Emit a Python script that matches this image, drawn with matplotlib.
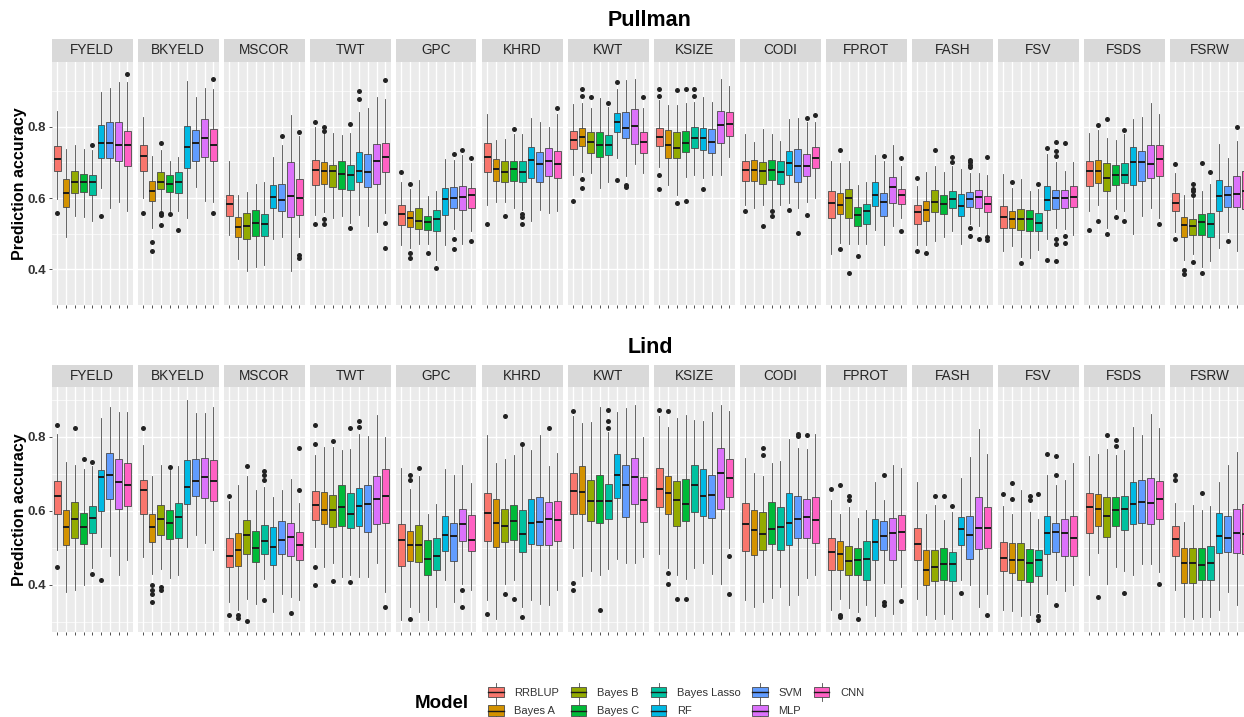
import matplotlib
matplotlib.use("Agg")
import matplotlib.pyplot as plt
from matplotlib.legend_handler import HandlerBase
from matplotlib.patches import Rectangle, Patch
from matplotlib.lines import Line2D

plt.rcParams['font.family'] = ['Liberation Sans', 'DejaVu Sans']

traits = ["FYELD", "BKYELD", "MSCOR", "TWT", "GPC", "KHRD", "KWT", "KSIZE",
          "CODI", "FPROT", "FASH", "FSV", "FSDS", "FSRW"]
models = ["RRBLUP", "Bayes A", "Bayes B", "Bayes C", "Bayes Lasso", "RF", "SVM", "MLP", "CNN"]
colors = ["#F8766D", "#D39200", "#93AA00", "#00BA38", "#00C19F", "#00B9E3",
          "#619CFF", "#DB72FB", "#FF61C3"]
locations = ["Pullman", "Lind"]

# ---------------- Pullman ----------------
pullman_q1 = [
    [0.675, 0.576, 0.615, 0.617, 0.610, 0.712, 0.712, 0.703, 0.689],
    [0.677, 0.591, 0.626, 0.617, 0.615, 0.684, 0.705, 0.716, 0.705],
    [0.549, 0.492, 0.486, 0.495, 0.493, 0.573, 0.563, 0.546, 0.552],
    [0.637, 0.639, 0.630, 0.626, 0.624, 0.644, 0.630, 0.639, 0.674],
    [0.524, 0.520, 0.513, 0.511, 0.508, 0.553, 0.573, 0.567, 0.573],
    [0.674, 0.648, 0.644, 0.648, 0.644, 0.656, 0.644, 0.662, 0.657],
    [0.737, 0.745, 0.727, 0.716, 0.721, 0.786, 0.768, 0.752, 0.727],
    [0.746, 0.713, 0.712, 0.729, 0.741, 0.734, 0.728, 0.755, 0.773],
    [0.648, 0.648, 0.639, 0.651, 0.639, 0.664, 0.644, 0.662, 0.684],
    [0.544, 0.555, 0.544, 0.522, 0.528, 0.578, 0.551, 0.587, 0.583],
    [0.528, 0.535, 0.560, 0.555, 0.572, 0.551, 0.574, 0.572, 0.561],
    [0.517, 0.516, 0.511, 0.508, 0.508, 0.567, 0.569, 0.573, 0.576],
    [0.633, 0.642, 0.619, 0.637, 0.642, 0.637, 0.648, 0.656, 0.662],
    [0.563, 0.490, 0.497, 0.497, 0.490, 0.563, 0.576, 0.575, 0.570],
]
pullman_med = [
    [0.709, 0.615, 0.644, 0.646, 0.646, 0.756, 0.754, 0.750, 0.748],
    [0.718, 0.619, 0.646, 0.640, 0.646, 0.743, 0.755, 0.768, 0.749],
    [0.583, 0.520, 0.522, 0.529, 0.526, 0.603, 0.596, 0.605, 0.599],
    [0.680, 0.675, 0.675, 0.668, 0.665, 0.677, 0.673, 0.705, 0.714],
    [0.555, 0.543, 0.537, 0.534, 0.540, 0.597, 0.599, 0.603, 0.610],
    [0.716, 0.682, 0.674, 0.682, 0.674, 0.707, 0.695, 0.704, 0.695],
    [0.764, 0.772, 0.757, 0.750, 0.748, 0.814, 0.797, 0.801, 0.757],
    [0.772, 0.750, 0.741, 0.755, 0.770, 0.768, 0.758, 0.805, 0.807],
    [0.680, 0.680, 0.675, 0.680, 0.674, 0.698, 0.691, 0.691, 0.713],
    [0.585, 0.581, 0.600, 0.553, 0.563, 0.608, 0.590, 0.632, 0.609],
    [0.560, 0.567, 0.590, 0.583, 0.597, 0.579, 0.598, 0.603, 0.583],
    [0.546, 0.540, 0.540, 0.540, 0.530, 0.596, 0.599, 0.601, 0.603],
    [0.677, 0.677, 0.657, 0.664, 0.666, 0.702, 0.700, 0.696, 0.709],
    [0.587, 0.525, 0.522, 0.534, 0.528, 0.606, 0.608, 0.612, 0.619],
]
pullman_q3 = [
    [0.745, 0.655, 0.675, 0.669, 0.665, 0.806, 0.813, 0.813, 0.788],
    [0.749, 0.647, 0.673, 0.665, 0.674, 0.802, 0.791, 0.823, 0.793],
    [0.610, 0.546, 0.558, 0.566, 0.556, 0.637, 0.641, 0.700, 0.655],
    [0.707, 0.701, 0.693, 0.704, 0.693, 0.730, 0.723, 0.752, 0.756],
    [0.582, 0.564, 0.572, 0.551, 0.567, 0.628, 0.630, 0.633, 0.628],
    [0.754, 0.709, 0.704, 0.704, 0.704, 0.744, 0.730, 0.741, 0.731],
    [0.788, 0.797, 0.786, 0.786, 0.777, 0.840, 0.841, 0.850, 0.786],
    [0.797, 0.791, 0.786, 0.788, 0.800, 0.797, 0.793, 0.845, 0.842],
    [0.704, 0.707, 0.702, 0.707, 0.704, 0.733, 0.738, 0.723, 0.744],
    [0.619, 0.615, 0.626, 0.576, 0.583, 0.646, 0.615, 0.658, 0.626],
    [0.581, 0.591, 0.624, 0.608, 0.621, 0.612, 0.617, 0.624, 0.605],
    [0.578, 0.564, 0.569, 0.567, 0.558, 0.633, 0.624, 0.624, 0.635],
    [0.703, 0.707, 0.698, 0.693, 0.698, 0.743, 0.731, 0.748, 0.750],
    [0.614, 0.546, 0.540, 0.555, 0.558, 0.650, 0.633, 0.662, 0.675],
]
pullman_lo = [
    [0.598, 0.492, 0.551, 0.546, 0.535, 0.628, 0.573, 0.590, 0.563],
    [0.599, 0.517, 0.567, 0.563, 0.563, 0.544, 0.630, 0.592, 0.590],
    [0.497, 0.429, 0.395, 0.406, 0.411, 0.486, 0.490, 0.395, 0.490],
    [0.553, 0.562, 0.544, 0.551, 0.531, 0.553, 0.522, 0.504, 0.558],
    [0.468, 0.459, 0.472, 0.472, 0.427, 0.468, 0.513, 0.472, 0.508],
    [0.581, 0.590, 0.590, 0.573, 0.567, 0.535, 0.567, 0.558, 0.563],
    [0.664, 0.674, 0.671, 0.628, 0.644, 0.713, 0.662, 0.695, 0.671],
    [0.686, 0.637, 0.610, 0.660, 0.664, 0.657, 0.665, 0.664, 0.716],
    [0.581, 0.573, 0.581, 0.573, 0.581, 0.587, 0.573, 0.588, 0.601],
    [0.443, 0.475, 0.470, 0.470, 0.472, 0.511, 0.468, 0.522, 0.543],
    [0.468, 0.468, 0.479, 0.490, 0.508, 0.470, 0.526, 0.522, 0.495],
    [0.452, 0.466, 0.436, 0.433, 0.454, 0.486, 0.516, 0.513, 0.497],
    [0.563, 0.582, 0.516, 0.569, 0.563, 0.499, 0.551, 0.572, 0.543],
    [0.504, 0.425, 0.442, 0.406, 0.423, 0.459, 0.506, 0.451, 0.470],
]
pullman_hi = [
    [0.844, 0.739, 0.750, 0.739, 0.734, 0.897, 0.909, 0.926, 0.926],
    [0.829, 0.718, 0.736, 0.705, 0.714, 0.930, 0.885, 0.910, 0.907],
    [0.704, 0.608, 0.617, 0.639, 0.644, 0.716, 0.748, 0.833, 0.773],
    [0.800, 0.784, 0.784, 0.777, 0.784, 0.842, 0.853, 0.883, 0.877],
    [0.644, 0.625, 0.651, 0.605, 0.619, 0.710, 0.707, 0.721, 0.698],
    [0.835, 0.763, 0.767, 0.779, 0.779, 0.826, 0.813, 0.800, 0.835],
    [0.865, 0.868, 0.853, 0.880, 0.856, 0.907, 0.931, 0.935, 0.854],
    [0.874, 0.862, 0.862, 0.868, 0.870, 0.883, 0.870, 0.933, 0.915],
    [0.781, 0.758, 0.795, 0.781, 0.761, 0.822, 0.824, 0.813, 0.813],
    [0.704, 0.698, 0.704, 0.637, 0.646, 0.721, 0.704, 0.748, 0.689],
    [0.635, 0.674, 0.689, 0.674, 0.689, 0.682, 0.671, 0.671, 0.665],
    [0.668, 0.628, 0.653, 0.619, 0.626, 0.725, 0.702, 0.677, 0.701],
    [0.782, 0.790, 0.770, 0.763, 0.779, 0.822, 0.829, 0.868, 0.836],
    [0.671, 0.608, 0.600, 0.619, 0.641, 0.752, 0.713, 0.761, 0.770],
]
pullman_outliers = {
    "FYELD": {0: [0.558], 4: [0.750], 5: [0.550], 8: [0.949]},
    "BKYELD": {0: [0.558], 1: [0.477, 0.451], 2: [0.755, 0.558, 0.552, 0.525],
               3: [0.555], 4: [0.511], 8: [0.933, 0.558]},
    "MSCOR": {6: [0.775], 8: [0.786, 0.441, 0.433]},
    "TWT": {0: [0.815, 0.526], 1: [0.800, 0.788, 0.542, 0.528], 4: [0.808, 0.517],
            5: [0.901, 0.877], 8: [0.931, 0.531, 0.460]},
    "GPC": {0: [0.674], 1: [0.641, 0.445, 0.433], 3: [0.445], 4: [0.404],
            6: [0.725, 0.486, 0.458], 7: [0.736], 8: [0.712, 0.479]},
    "KHRD": {0: [0.526], 2: [0.551], 3: [0.795], 4: [0.555, 0.548, 0.526], 8: [0.853]},
    "KWT": {0: [0.591], 1: [0.906, 0.886, 0.655, 0.628], 2: [0.883], 4: [0.867],
            5: [0.926, 0.650], 6: [0.637, 0.630], 8: [0.884]},
    "KSIZE": {0: [0.906, 0.886, 0.665, 0.626], 2: [0.903, 0.585], 3: [0.907, 0.591],
              4: [0.906, 0.886], 5: [0.626]},
    "CODI": {0: [0.564], 2: [0.522], 3: [0.564, 0.551], 5: [0.567], 6: [0.501],
             7: [0.824, 0.553], 8: [0.832]},
    "FPROT": {1: [0.736, 0.458], 2: [0.391], 3: [0.438], 6: [0.718], 8: [0.713, 0.507]},
    "FASH": {0: [0.656, 0.451], 1: [0.447], 2: [0.736], 4: [0.716, 0.701],
             6: [0.708, 0.700, 0.692, 0.686, 0.516, 0.493], 7: [0.486],
             8: [0.716, 0.490, 0.482]},
    "FSV": {1: [0.644], 2: [0.418], 4: [0.639], 5: [0.740, 0.427],
            6: [0.758, 0.732, 0.719, 0.484, 0.470, 0.423], 7: [0.754, 0.493, 0.475]},
    "FSDS": {0: [0.511], 1: [0.804, 0.535], 2: [0.823, 0.499], 3: [0.546],
             4: [0.791, 0.535], 8: [0.526]},
    "FSRW": {0: [0.695, 0.484], 1: [0.398, 0.386], 2: [0.639, 0.626, 0.619, 0.610, 0.422],
             3: [0.698, 0.389], 4: [0.674], 6: [0.479], 7: [0.800]},
}

# ---------------- Lind ----------------
lind_q1 = [
    [0.590, 0.508, 0.526, 0.511, 0.540, 0.600, 0.633, 0.606, 0.613],
    [0.590, 0.515, 0.534, 0.525, 0.526, 0.619, 0.640, 0.635, 0.627],
    [0.448, 0.451, 0.484, 0.461, 0.484, 0.452, 0.484, 0.479, 0.466],
    [0.576, 0.563, 0.557, 0.559, 0.554, 0.559, 0.543, 0.565, 0.567],
    [0.450, 0.464, 0.461, 0.427, 0.439, 0.491, 0.463, 0.517, 0.490],
    [0.518, 0.502, 0.516, 0.522, 0.488, 0.511, 0.508, 0.508, 0.518],
    [0.592, 0.590, 0.572, 0.568, 0.577, 0.635, 0.583, 0.619, 0.570],
    [0.610, 0.590, 0.558, 0.572, 0.597, 0.586, 0.581, 0.606, 0.637],
    [0.490, 0.481, 0.495, 0.509, 0.493, 0.508, 0.527, 0.527, 0.513],
    [0.439, 0.441, 0.425, 0.425, 0.412, 0.466, 0.495, 0.468, 0.495],
    [0.466, 0.398, 0.409, 0.414, 0.410, 0.507, 0.470, 0.496, 0.499],
    [0.437, 0.433, 0.412, 0.407, 0.423, 0.484, 0.488, 0.477, 0.479],
    [0.540, 0.559, 0.529, 0.558, 0.547, 0.564, 0.567, 0.564, 0.577],
    [0.477, 0.405, 0.405, 0.412, 0.412, 0.486, 0.488, 0.486, 0.484],
]
lind_med = [
    [0.640, 0.556, 0.579, 0.556, 0.581, 0.692, 0.698, 0.678, 0.669],
    [0.656, 0.556, 0.577, 0.568, 0.583, 0.665, 0.680, 0.692, 0.680],
    [0.478, 0.493, 0.535, 0.499, 0.517, 0.502, 0.522, 0.529, 0.508],
    [0.615, 0.601, 0.601, 0.609, 0.590, 0.612, 0.619, 0.633, 0.640],
    [0.520, 0.508, 0.508, 0.470, 0.477, 0.534, 0.532, 0.563, 0.522],
    [0.594, 0.568, 0.559, 0.572, 0.536, 0.568, 0.570, 0.579, 0.574],
    [0.653, 0.651, 0.626, 0.626, 0.626, 0.698, 0.671, 0.692, 0.628],
    [0.658, 0.649, 0.630, 0.619, 0.671, 0.639, 0.642, 0.701, 0.689],
    [0.563, 0.547, 0.536, 0.550, 0.556, 0.568, 0.579, 0.583, 0.574],
    [0.488, 0.482, 0.463, 0.468, 0.470, 0.516, 0.532, 0.540, 0.543],
    [0.511, 0.439, 0.448, 0.457, 0.457, 0.552, 0.535, 0.554, 0.554],
    [0.473, 0.466, 0.466, 0.459, 0.468, 0.540, 0.543, 0.540, 0.527],
    [0.610, 0.606, 0.585, 0.601, 0.606, 0.619, 0.624, 0.621, 0.633],
    [0.523, 0.459, 0.459, 0.454, 0.459, 0.532, 0.527, 0.541, 0.538],
]
lind_q3 = [
    [0.680, 0.603, 0.624, 0.595, 0.613, 0.710, 0.757, 0.739, 0.730],
    [0.684, 0.591, 0.615, 0.601, 0.621, 0.737, 0.739, 0.743, 0.737],
    [0.527, 0.540, 0.574, 0.544, 0.561, 0.556, 0.572, 0.567, 0.542],
    [0.654, 0.651, 0.644, 0.669, 0.647, 0.662, 0.669, 0.693, 0.714],
    [0.565, 0.545, 0.562, 0.520, 0.526, 0.585, 0.568, 0.604, 0.588],
    [0.647, 0.633, 0.606, 0.615, 0.603, 0.633, 0.638, 0.624, 0.627],
    [0.702, 0.721, 0.684, 0.696, 0.672, 0.755, 0.725, 0.744, 0.691],
    [0.716, 0.693, 0.680, 0.687, 0.725, 0.714, 0.698, 0.770, 0.739],
    [0.622, 0.603, 0.597, 0.624, 0.610, 0.647, 0.640, 0.631, 0.636],
    [0.526, 0.517, 0.505, 0.499, 0.517, 0.579, 0.572, 0.581, 0.588],
    [0.554, 0.493, 0.493, 0.500, 0.488, 0.583, 0.586, 0.636, 0.610],
    [0.516, 0.513, 0.513, 0.496, 0.495, 0.586, 0.568, 0.579, 0.586],
    [0.647, 0.645, 0.638, 0.638, 0.640, 0.679, 0.683, 0.690, 0.680],
    [0.558, 0.498, 0.498, 0.498, 0.504, 0.595, 0.585, 0.604, 0.619],
]
lind_lo = [
    [0.493, 0.380, 0.385, 0.398, 0.445, 0.502, 0.477, 0.425, 0.466],
    [0.475, 0.430, 0.443, 0.418, 0.425, 0.502, 0.534, 0.513, 0.495],
    [0.353, 0.332, 0.362, 0.349, 0.416, 0.326, 0.376, 0.367, 0.359],
    [0.502, 0.448, 0.459, 0.421, 0.425, 0.421, 0.421, 0.459, 0.380],
    [0.305, 0.341, 0.326, 0.305, 0.340, 0.412, 0.353, 0.403, 0.385],
    [0.358, 0.308, 0.403, 0.412, 0.340, 0.358, 0.349, 0.344, 0.386],
    [0.498, 0.423, 0.437, 0.425, 0.443, 0.470, 0.459, 0.459, 0.475],
    [0.484, 0.445, 0.425, 0.416, 0.445, 0.459, 0.430, 0.403, 0.500],
    [0.358, 0.340, 0.353, 0.365, 0.395, 0.344, 0.371, 0.418, 0.425],
    [0.332, 0.362, 0.337, 0.326, 0.344, 0.314, 0.405, 0.321, 0.395],
    [0.362, 0.317, 0.308, 0.321, 0.308, 0.412, 0.398, 0.340, 0.376],
    [0.332, 0.328, 0.314, 0.317, 0.326, 0.376, 0.412, 0.383, 0.400],
    [0.425, 0.486, 0.401, 0.448, 0.436, 0.425, 0.455, 0.455, 0.434],
    [0.386, 0.312, 0.308, 0.312, 0.312, 0.332, 0.380, 0.344, 0.349],
]
lind_hi = [
    [0.809, 0.732, 0.723, 0.714, 0.721, 0.850, 0.881, 0.868, 0.868],
    [0.777, 0.693, 0.723, 0.710, 0.721, 0.901, 0.865, 0.865, 0.881],
    [0.626, 0.669, 0.693, 0.656, 0.665, 0.637, 0.656, 0.687, 0.621],
    [0.750, 0.773, 0.773, 0.764, 0.768, 0.809, 0.802, 0.859, 0.800],
    [0.717, 0.660, 0.693, 0.592, 0.619, 0.712, 0.698, 0.723, 0.674],
    [0.805, 0.730, 0.739, 0.752, 0.773, 0.764, 0.806, 0.721, 0.757],
    [0.857, 0.838, 0.841, 0.881, 0.814, 0.868, 0.877, 0.886, 0.800],
    [0.856, 0.827, 0.851, 0.859, 0.845, 0.842, 0.868, 0.886, 0.870],
    [0.743, 0.702, 0.693, 0.730, 0.734, 0.793, 0.770, 0.768, 0.809],
    [0.630, 0.592, 0.610, 0.581, 0.601, 0.678, 0.628, 0.723, 0.717],
    [0.678, 0.592, 0.615, 0.574, 0.597, 0.689, 0.746, 0.820, 0.755],
    [0.612, 0.590, 0.656, 0.597, 0.579, 0.696, 0.669, 0.683, 0.730],
    [0.748, 0.755, 0.768, 0.750, 0.764, 0.827, 0.805, 0.863, 0.824],
    [0.621, 0.571, 0.615, 0.603, 0.613, 0.678, 0.723, 0.759, 0.764],
]
lind_outliers = {
    "FYELD": {0: [0.833, 0.448], 2: [0.823], 3: [0.741], 4: [0.732, 0.428], 5: [0.414]},
    "BKYELD": {0: [0.825], 1: [0.398, 0.386, 0.374, 0.353], 2: [0.395, 0.386], 3: [0.719]},
    "MSCOR": {0: [0.639, 0.319], 1: [0.317, 0.311], 2: [0.721, 0.303],
              4: [0.707, 0.696, 0.684, 0.359], 7: [0.323], 8: [0.771, 0.657]},
    "TWT": {0: [0.833, 0.782, 0.448, 0.398], 2: [0.789, 0.410], 4: [0.823, 0.407],
            5: [0.842, 0.827], 8: [0.340]},
    "GPC": {1: [0.696, 0.683, 0.308], 2: [0.717], 7: [0.386, 0.340]},
    "KHRD": {0: [0.320], 2: [0.857, 0.374], 3: [0.362], 4: [0.782, 0.313], 7: [0.823]},
    "KWT": {0: [0.870, 0.405, 0.385], 3: [0.332], 4: [0.872, 0.843, 0.824]},
    "KSIZE": {0: [0.874], 1: [0.870, 0.433, 0.401], 2: [0.362], 3: [0.362], 8: [0.479, 0.374]},
    "CODI": {2: [0.771, 0.750], 6: [0.807, 0.803], 7: [0.806]},
    "FPROT": {0: [0.660], 1: [0.671, 0.317, 0.312], 2: [0.639, 0.628], 3: [0.308],
              6: [0.696, 0.353, 0.344], 8: [0.355]},
    "FASH": {2: [0.640], 3: [0.640], 4: [0.613], 5: [0.377], 8: [0.317]},
    "FSV": {0: [0.645], 1: [0.675, 0.631], 3: [0.639, 0.628], 4: [0.645, 0.314, 0.305],
            5: [0.753], 6: [0.748, 0.698, 0.344]},
    "FSDS": {1: [0.367], 2: [0.805], 3: [0.791, 0.775], 4: [0.378], 8: [0.403]},
    "FSRW": {0: [0.698, 0.684], 3: [0.648]},
}

datasets = {
    "Pullman": (pullman_q1, pullman_med, pullman_q3, pullman_lo, pullman_hi, pullman_outliers),
    "Lind": (lind_q1, lind_med, lind_q3, lind_lo, lind_hi, lind_outliers),
}

# ---------------- layout (pixels of a 1244x717 canvas) ----------------
W, H = 1244, 717
fig = plt.figure(figsize=(W / 100, H / 100), dpi=100)
fig.patch.set_facecolor("white")

row_geom = {
    # strip_top, panel_top, panel_bottom, ylim, title_y
    "Pullman": (38.5, 62.0, 305.0, (0.326, 0.982), 20),
    "Lind": (365.0, 387.0, 632.0, (0.272, 0.935), 348),
}
x0, pitch, pw = 52.0, 86.0, 80.5

line_col = "#4a4a4a"

for loc in locations:
    q1s, meds, q3s, los, his, outs = datasets[loc]
    st, pt, pb, ylim, ty = row_geom[loc]
    fig.text(650 / W, 1 - ty / H, loc, ha="center", va="center",
             fontsize=15.5, fontweight="bold", color="black")
    for i, tr in enumerate(traits):
        left = (x0 + pitch * i) / W
        ax = fig.add_axes([left, 1 - pb / H, pw / W, (pb - pt) / H])
        ax.set_facecolor("#EBEBEB")
        for s in ax.spines.values():
            s.set_visible(False)
        stats = []
        for j in range(len(models)):
            stats.append(dict(q1=q1s[i][j], med=meds[i][j], q3=q3s[i][j],
                              whislo=los[i][j], whishi=his[i][j],
                              fliers=outs.get(tr, {}).get(j, []), label=models[j]))
        bp = ax.bxp(stats, positions=range(1, len(models) + 1), widths=0.75,
                    patch_artist=True, showcaps=False,
                    boxprops=dict(edgecolor=line_col, linewidth=0.6),
                    whiskerprops=dict(color=line_col, linewidth=0.6),
                    medianprops=dict(color="#1a1a1a", linewidth=1.4),
                    flierprops=dict(marker="o", markersize=3.6, markerfacecolor="#222222",
                                    markeredgecolor="none"))
        for patch, c in zip(bp["boxes"], colors):
            patch.set_facecolor(c)
        ax.set_xlim(0.4, len(models) + 0.6)
        ax.set_ylim(*ylim)
        ax.set_xticks(range(1, len(models) + 1))
        ax.set_xticklabels([])
        ax.set_yticks([0.4, 0.6, 0.8])
        ax.set_yticks([0.3, 0.5, 0.7, 0.9], minor=True)
        ax.set_axisbelow(True)
        ax.grid(which="major", color="white", linewidth=1.0)
        ax.grid(which="minor", axis="y", color="white", linewidth=0.5)
        ax.tick_params(which="minor", length=0)
        ax.tick_params(axis="x", which="major", length=2.5, width=0.6, color="#333333")
        if i == 0:
            ax.tick_params(axis="y", which="major", length=2.5, width=0.6, color="#333333",
                           labelsize=9.5, labelcolor="#333333", pad=2)
            for lab in ax.get_yticklabels():
                lab.set_fontweight("bold")
        else:
            ax.tick_params(axis="y", which="major", length=0, labelleft=False)
        # strip
        sax = fig.add_axes([left, 1 - pt / H, pw / W, (pt - st) / H])
        sax.set_facecolor("#D9D9D9")
        sax.set_xticks([])
        sax.set_yticks([])
        for s in sax.spines.values():
            s.set_visible(False)
        sax.text(0.5, 0.5, tr, ha="center", va="center", fontsize=9.8,
                 color="#262626", transform=sax.transAxes)
    fig.text(20 / W, 1 - ((pt + pb) / 2) / H, "Prediction accuracy", rotation=90,
             ha="center", va="center", fontsize=11.5, fontweight="bold")


# ---------------- legend ----------------
class BoxHandler(HandlerBase):
    def create_artists(self, legend, orig_handle, xdescent, ydescent, width, height,
                       fontsize, trans):
        c = orig_handle.get_facecolor()
        x = -xdescent
        cy = -ydescent + height / 2
        bh = fontsize * 0.95   # box height in points
        cx = x + width / 2
        v = Line2D([cx, cx], [cy - bh * 0.85, cy + bh * 0.85], color=line_col,
                   linewidth=0.6, transform=trans)
        r = Rectangle((x + width * 0.04, cy - bh / 2), width * 0.92, bh,
                      facecolor=c, edgecolor=line_col, linewidth=0.6, transform=trans)
        m = Line2D([x + width * 0.04, x + width * 0.96], [cy, cy],
                   color="#1a1a1a", linewidth=1.0, transform=trans)
        return [v, r, m]


handles = [Patch(facecolor=c, label=m) for c, m in zip(colors, models)]
fig.legend(handles=handles, labels=models, ncol=5, loc="center left",
           bbox_to_anchor=(482 / W, 1 - 702 / H), frameon=False, fontsize=8,
           handler_map={Patch: BoxHandler()}, handlelength=1.5, handleheight=0.85,
           handletextpad=0.9, columnspacing=1.0, labelspacing=0.75, borderpad=0,
           labelcolor="#333333")
fig.text(415 / W, 1 - 703 / H, "Model", ha="left", va="center", fontsize=13.5,
         fontweight="bold")

fig.savefig("out.png", dpi=100, facecolor="white")
